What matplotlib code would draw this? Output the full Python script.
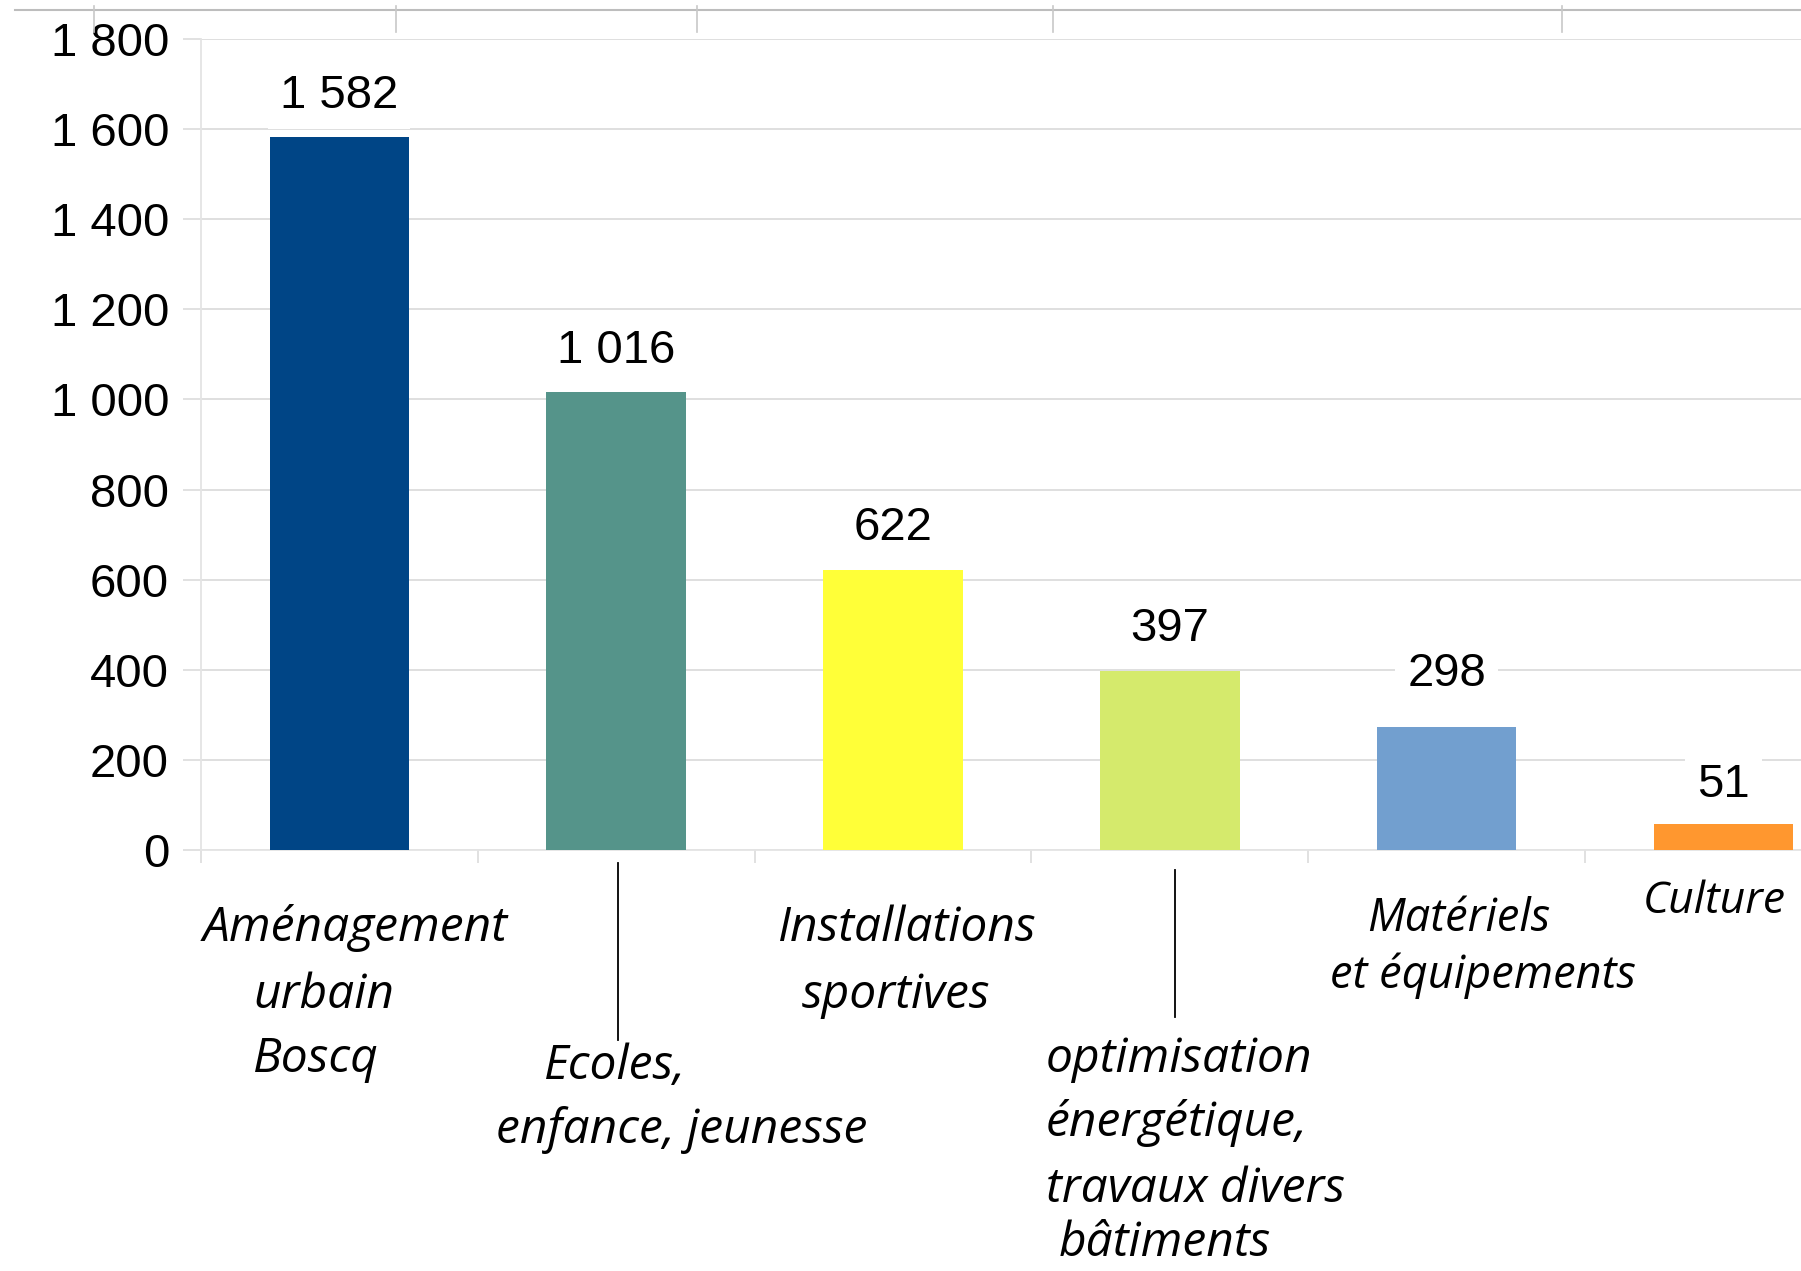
import matplotlib
matplotlib.use("Agg")
import matplotlib.pyplot as plt
from matplotlib.lines import Line2D

# ---- data ----
categories = ["Aménagement urbain Boscq", "Ecoles, enfance, jeunesse",
              "Installations sportives",
              "optimisation énergétique, travaux divers bâtiments",
              "Matériels et équipements", "Culture"]
bar_values = [1582, 1016, 622, 397, 273, 57]
label_values = [1582, 1016, 622, 397, 298, 51]
value_texts = ["1 582", "1 016", "622", "397", "298", "51"]
bar_colors = ["#004586", "#55948a", "#ffff38", "#d5ea6c", "#729fcf", "#ff972f"]
y_ticks = [0, 200, 400, 600, 800, 1000, 1200, 1400, 1600, 1800]
y_tick_labels = ["0", "200", "400", "600", "800", "1 000", "1 200", "1 400", "1 600", "1 800"]

# category label lines: (category index, text, dx, y, size)
label_lines = [
    (0, "Aménagement", -0.493, -173, 34.5),
    (0, "urbain", -0.312, -322, 34.5),
    (0, "Boscq", -0.312, -464, 34.5),
    (1, "Ecoles,", -0.261, -479, 34.5),
    (1, "enfance, jeunesse", -0.434, -621, 34.5),
    (2, "Installations", -0.415, -173, 34.5),
    (2, "sportives", -0.329, -322, 34.5),
    (3, "optimisation", -0.447, -464, 34.5),
    (3, "énergétique,", -0.447, -606, 34.5),
    (3, "travaux divers", -0.447, -752, 34.5),
    (3, "bâtiments", -0.400, -872, 34.5),
    (4, "Matériels", -0.288, -153, 32.5),
    (4, "et équipements", -0.421, -280, 32.5),
    (5, "Culture", -0.290, -115, 32),
]
connectors = [(1.006, -29, -422), (3.019, -44, -371)]

W, H = 1801, 1271
fig = plt.figure(figsize=(W / 100, H / 100), dpi=100)
fig.patch.set_facecolor("white")

ax = fig.add_axes([201 / W, (H - 850) / H, 6 * 276.8 / W, 811 / H])
x = list(range(len(categories)))
ax.bar(x, bar_values, width=0.505, color=bar_colors, zorder=3)
ax.set_xlim(-0.5, 5.5)
ax.set_ylim(0, 1800)

grid_c = "#dcdcdc"
ax.set_yticks(y_ticks)
ax.set_yticklabels(y_tick_labels, family=["Liberation Sans", "DejaVu Sans"], fontsize=34)
ax.tick_params(axis="y", length=13, width=1.2, color=grid_c, pad=10)
ax.yaxis.grid(True, color=grid_c, linewidth=1.3, zorder=0)
ax.set_xticks([i - 0.5 for i in range(len(categories) + 1)])
ax.set_xticklabels([])
ax.tick_params(axis="x", length=9, width=1.2, color=grid_c)
for s in ["top", "right"]:
    ax.spines[s].set_visible(False)
for s in ["left", "bottom"]:
    ax.spines[s].set_color("#e4e4e4")
    ax.spines[s].set_linewidth(1.3)
ax.set_axisbelow(True)

for i, (v, t) in enumerate(zip(label_values, value_texts)):
    ax.annotate(t, xy=(i, v), xytext=(0, 30), textcoords="offset points",
                ha="center", va="center", fontsize=34,
                family=["Liberation Sans", "DejaVu Sans"], color="black",
                bbox=dict(boxstyle="square,pad=0.25", fc="white", ec="none"),
                zorder=4, annotation_clip=False)

for (i, txt, dx, yv, sz) in label_lines:
    ax.text(i + dx, yv, txt, ha="left", va="center", fontsize=sz,
            family=["Open Sans", "DejaVu Sans"], style="italic", color="black",
            clip_on=False)

for (xc, y0, y1) in connectors:
    ax.add_line(Line2D([xc, xc], [y0, y1], color="black", linewidth=1.3, clip_on=False))

# decorative top rule from the page
fig.add_artist(Line2D([15 / W, 1.0], [1 - 10 / H, 1 - 10 / H], color="#bdbdbd", linewidth=1.5))
for px in [94, 396, 697, 1053, 1562]:
    fig.add_artist(Line2D([px / W, px / W], [1 - 6 / H, 1 - 32 / H], color="#c8c8c8", linewidth=1.2))

fig.savefig("out.png", dpi=100, facecolor="white")
